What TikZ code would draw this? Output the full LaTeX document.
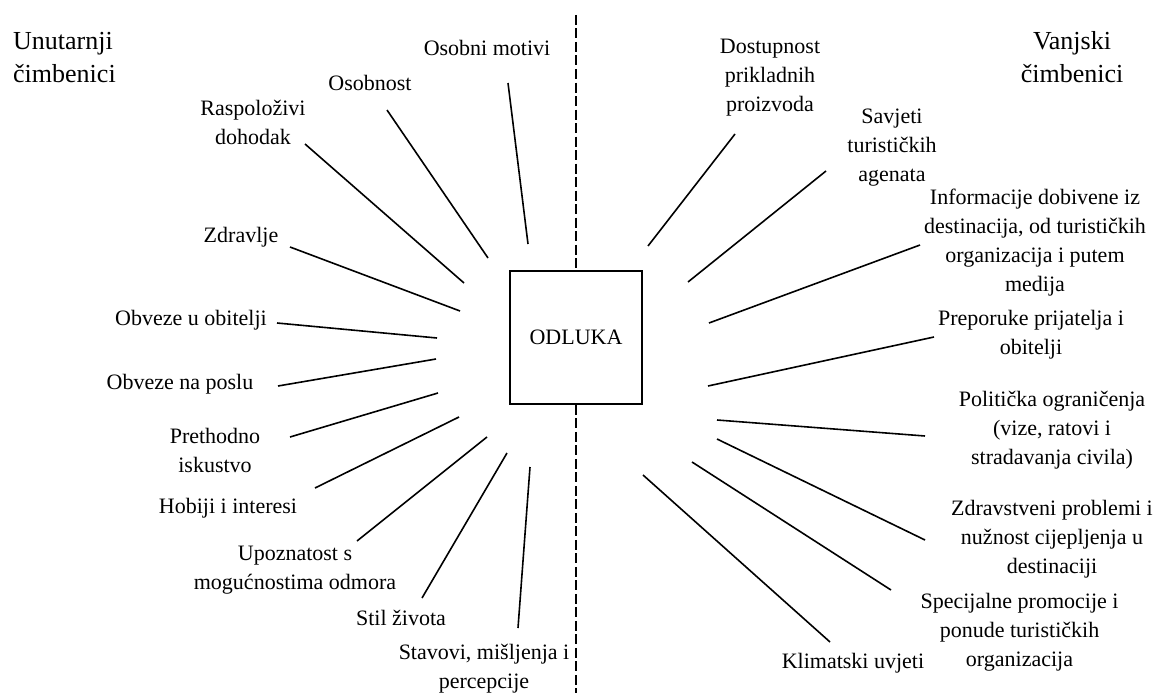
\documentclass[tikz,border=0pt]{standalone}
\usepackage{fontspec}
\setmainfont{Liberation Serif}
\begin{document}
\begin{tikzpicture}[x=1pt,y=-1pt,
  lbl/.style={inner sep=0pt,align=center,font=\fontsize{22}{29}\selectfont},
  hdr/.style={inner sep=0pt,font=\fontsize{26}{33}\selectfont},
  conn/.style={line width=1.6pt},
  divider/.style={line width=1.5pt,dash pattern=on 10pt off 3.5pt},
  decision/.style={draw,line width=1.8pt,minimum width=132pt,minimum height=133pt,inner sep=0pt,font=\fontsize{22}{29}\selectfont}]
\useasboundingbox (0,0) rectangle (1164,693);
% headers
\node[hdr,align=left,anchor=west] (hin) at (13,57.5) {Unutarnji\\čimbenici};
\node[hdr,align=center] (hout) at (1072,57.5) {Vanjski\\čimbenici};
% decision box
\node[decision] (odl) at (576,337.5) {ODLUKA};
\coordinate (dtop) at (576,15);
\coordinate (dbot) at (576,693);
\draw[divider] (dtop) -- (odl.north);
\draw[divider] (odl.south) -- (dbot);
% left labels
\node[lbl] (l1) at (487,48) {Osobni motivi};
\node[lbl] (l2) at (370,83) {Osobnost};
\node[lbl] (l3) at (253,122) {Raspoloživi\\dohodak};
\node[lbl] (l4) at (241,237) {Zdravlje};
\node[lbl] (l5) at (191,320) {Obveze u obitelji};
\node[lbl] (l6) at (180,384) {Obveze na poslu};
\node[lbl] (l7) at (215,450) {Prethodno\\iskustvo};
\node[lbl] (l8) at (228,508) {Hobiji i interesi};
\node[lbl] (l9) at (295,570) {Upoznatost s\\mogućnostima odmora};
\node[lbl] (l10) at (401,618) {Stil života};
\node[lbl] (l11) at (484,669) {Stavovi, mišljenja i\\percepcije};
% right labels
\node[lbl] (r1) at (770,78) {Dostupnost\\prikladnih\\proizvoda};
\node[lbl] (r2) at (892,148) {Savjeti\\turističkih\\agenata};
\node[lbl] (r3) at (1035,243) {Informacije dobivene iz\\destinacija, od turističkih\\organizacija i putem\\medija};
\node[lbl] (r4) at (1031,335) {Preporuke prijatelja i\\obitelji};
\node[lbl] (r5) at (1052,430) {Politička ograničenja\\(vize, ratovi i\\stradavanja civila)};
\node[lbl] (r6) at (1052,539) {Zdravstveni problemi i\\nužnost cijepljenja u\\destinaciji};
\node[lbl] (r7) at (1019.5,632) {Specijalne promocije i\\ponude turističkih\\organizacija};
\node[lbl] (r8) at (853,663) {Klimatski uvjeti};
% connector end points: outer end / inner end
\foreach \n/\ax/\ay/\bx/\by in {
  l1/508/83/528/244, l2/387/110/488/258, l3/305/144/464/283,
  l4/290/247/460/311, l5/277/323/437/338, l6/278/386/436/359,
  l7/290/437/438/393, l8/315/488/459/417, l9/357/541/487/437,
  l10/422/598/507/453, l11/518/628/530/467,
  r1/735/134/648/246, r2/826/171/688/282, r3/920/245/709/323,
  r4/934/337/708/386, r5/925/436/717/420, r6/925/540/717/439,
  r7/891/590/692/462, r8/830/642/643/475}{
  \coordinate (\n o) at (\ax,\ay);
  \coordinate (\n i) at (\bx,\by);
  \draw[conn] (\n o) -- (\n i);
}
\end{tikzpicture}
\end{document}
